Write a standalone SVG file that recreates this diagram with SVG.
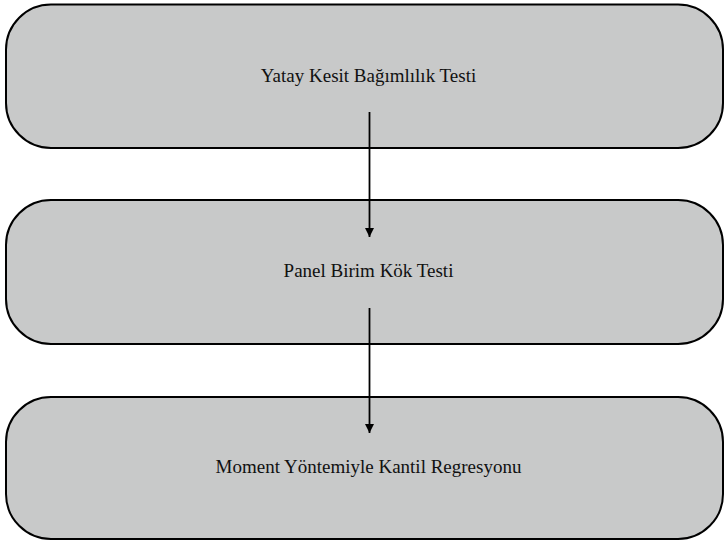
<svg xmlns="http://www.w3.org/2000/svg" width="725" height="542" viewBox="0 0 725 542">
<style>
.box{fill:#c8c9c9;stroke:#000;stroke-width:2}
.lbl{font-family:'Liberation Serif','Times New Roman',serif;font-size:19px;fill:#111;text-anchor:middle}
.conn{stroke:#000;stroke-width:1.8;fill:none}
</style>
<defs>
<marker id="ah" viewBox="0 0 10 10" refX="10" refY="5" markerWidth="9" markerHeight="10" markerUnits="userSpaceOnUse" orient="auto">
<path d="M0,0 L10,5 L0,10 z" fill="#000"/>
</marker>
</defs>
<rect width="725" height="542" fill="#fff"/>
<g id="node1">
<rect class="box" x="6" y="4.5" width="717" height="143.5" rx="45" ry="45"/>
<text class="lbl" x="368.5" y="81.5">Yatay Kesit Bağımlılık Testi</text>
</g>
<g id="node2">
<rect class="box" x="6" y="200" width="717" height="144" rx="45" ry="45"/>
<text class="lbl" x="368.5" y="277">Panel Birim Kök Testi</text>
</g>
<g id="node3">
<rect class="box" x="6" y="397" width="717" height="142" rx="45" ry="45"/>
<text class="lbl" x="368.5" y="473">Moment Yöntemiyle Kantil Regresyonu</text>
</g>
<g id="connectors">
<line class="conn" x1="369.5" y1="112" x2="369.5" y2="237" marker-end="url(#ah)"/>
<line class="conn" x1="369.5" y1="308" x2="369.5" y2="433" marker-end="url(#ah)"/>
</g>
</svg>
